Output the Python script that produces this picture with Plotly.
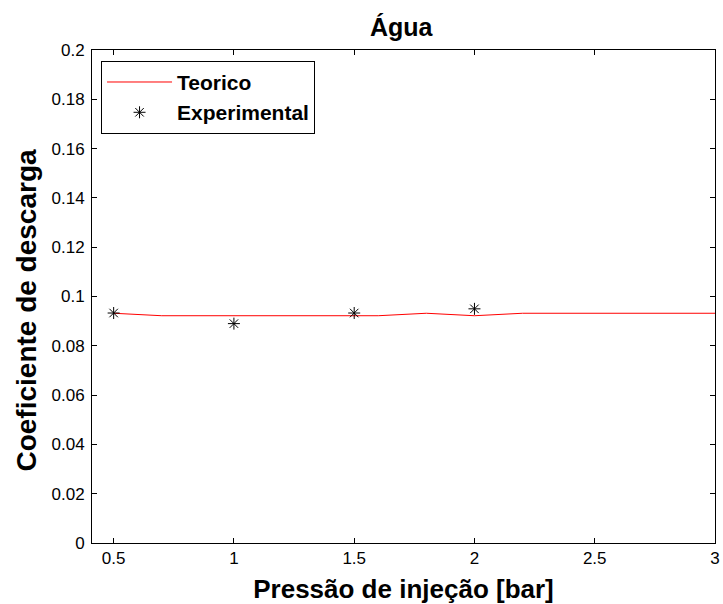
import plotly.graph_objects as go

FONT = "Liberation Sans, Arial, sans-serif"

# curva teorica
pressao_teo = [0.5, 0.7, 1.6, 1.8, 2.0, 2.2, 3.0]
cd_teo = [0.0932, 0.0922, 0.0922, 0.0932, 0.0922, 0.0932, 0.0932]

# pontos experimentais
pressao_exp = [0.5, 1.0, 1.5, 2.0]
cd_exp = [0.0933, 0.0890, 0.0933, 0.0950]

y_ticks = [0, 0.02, 0.04, 0.06, 0.08, 0.1, 0.12, 0.14, 0.16, 0.18, 0.2]
x_ticks = [0.5, 1, 1.5, 2, 2.5, 3]

fig = go.Figure()
fig.add_trace(go.Scatter(
    x=pressao_teo, y=cd_teo,
    mode="lines",
    line=dict(color="red", width=1),
    name="<b>Teorico</b>",
    legendgroup="teo",
))
fig.add_trace(go.Scatter(
    x=pressao_exp, y=cd_exp,
    mode="markers",
    marker=dict(symbol="asterisk-open", size=10, color="black",
                line=dict(color="black", width=1)),
    name="<b>Experimental</b>",
    legendgroup="exp",
))

axis_common = dict(
    showline=True, linecolor="black", linewidth=1,
    mirror="ticks", ticks="inside", ticklen=5, tickcolor="black",
    showgrid=False, zeroline=False, automargin=False,
    tickfont=dict(family=FONT, size=17, color="black"),
)

fig.update_layout(
    width=723, height=604,
    margin=dict(l=92, r=8, t=50, b=61),
    paper_bgcolor="white", plot_bgcolor="white",
    title=dict(text="<b>Água</b>", x=0.555, xanchor="center", y=0.955,
               yanchor="middle", font=dict(family=FONT, size=25, color="black")),
    xaxis=dict(range=[0.41, 3], tickvals=x_ticks,
               title=dict(text="<b>Pressão de injeção [bar]</b>", standoff=14,
                          font=dict(family=FONT, size=26, color="black")),
               **axis_common),
    yaxis=dict(range=[0, 0.2], tickvals=y_ticks, ticklabelstandoff=3,
               **axis_common),
    legend=dict(x=0.0145, y=0.978, xanchor="left", yanchor="top",
                bordercolor="black", borderwidth=1, bgcolor="white",
                font=dict(family=FONT, size=21, color="black"),
                itemwidth=65, tracegroupgap=0),
    showlegend=True,
)

# rotulo do eixo y, um pouco abaixo do centro como no original
fig.add_annotation(
    text="<b>Coeficiente de descarga</b>", textangle=-90,
    xref="paper", yref="paper", x=-0.1067, y=0.4726,
    xanchor="center", yanchor="middle", showarrow=False,
    font=dict(family=FONT, size=28, color="black"),
)

fig.write_html("out.html", config={"displayModeBar": False},
               post_script="document.body.style.margin='0';")
